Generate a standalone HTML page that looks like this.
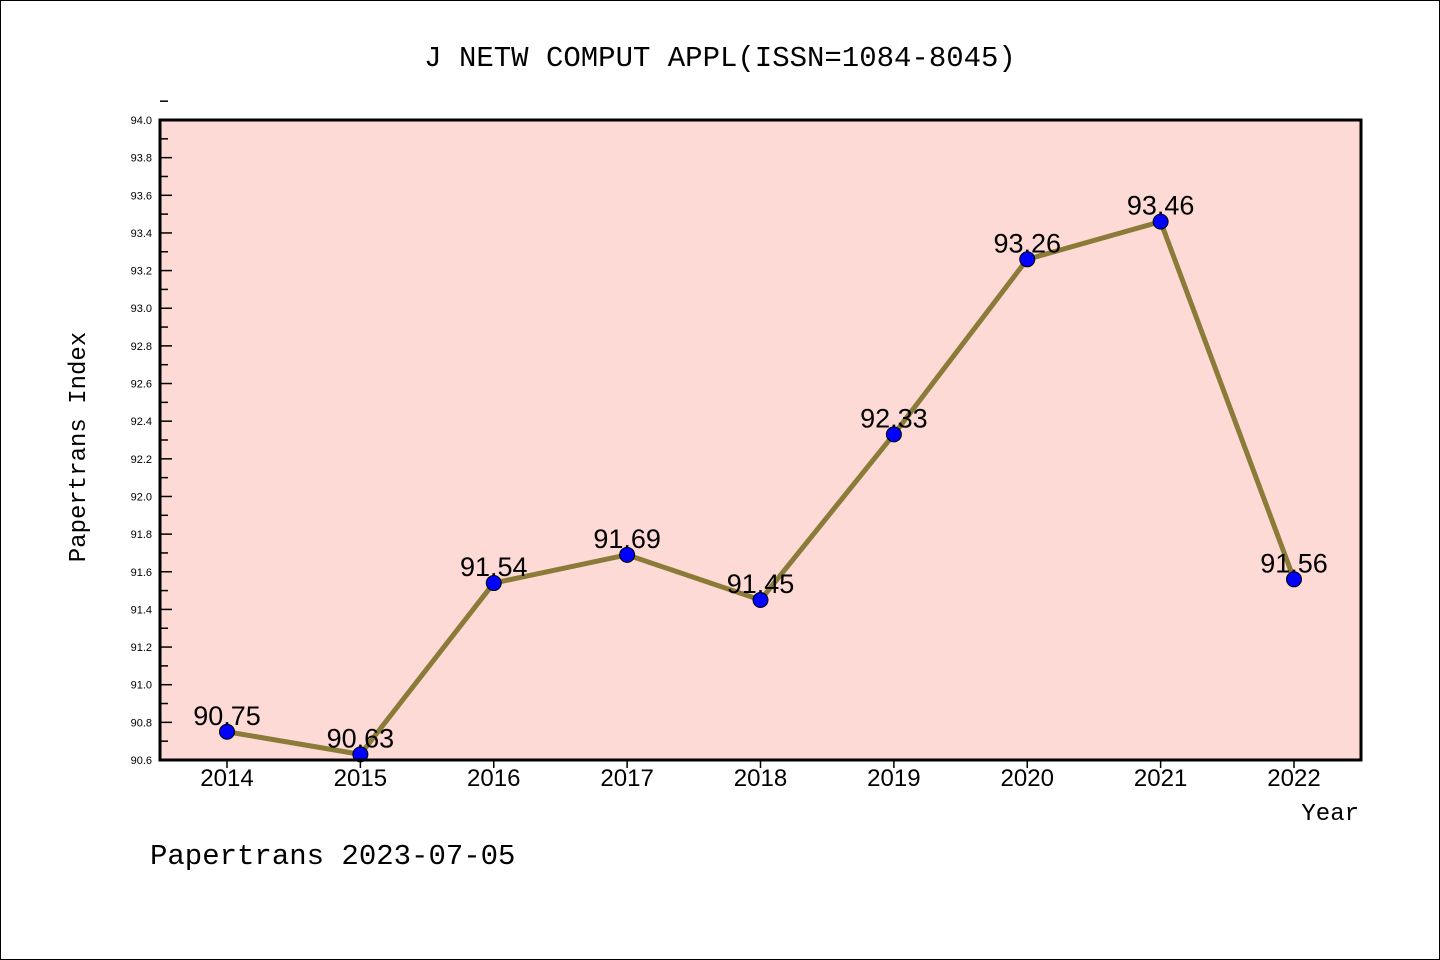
<!DOCTYPE html>
<html><head><meta charset="utf-8"><style>
body{margin:0;background:#fff}
svg{display:block;font-family:"Liberation Mono","DejaVu Sans Mono",monospace}
</style></head><body>
<svg id="chart" width="1440" height="960" xmlns="http://www.w3.org/2000/svg">
<rect x="0.5" y="0.5" width="1439" height="959" fill="#fff" stroke="#000"/>
<text x="720" y="66" text-anchor="middle" font-size="29">J NETW COMPUT APPL(ISSN=1084-8045)</text>
<rect x="160" y="120" width="1201" height="640" fill="#fddad6"/>
<g id="yaxis"></g>
<g id="xaxis"></g>
<g id="series"></g>
<rect x="160" y="120" width="1201" height="640" fill="none" stroke="#000" stroke-width="3"/>
<text transform="translate(85,447) rotate(-90)" text-anchor="middle" font-size="24">Papertrans Index</text>
<text x="1359" y="820" text-anchor="end" font-size="24">Year</text>
<text x="150" y="864" font-size="29">Papertrans 2023-07-05</text>
</svg>
<script>
const years=["2014","2015","2016","2017","2018","2019","2020","2021","2022"];
const values=[90.75,90.63,91.54,91.69,91.45,92.33,93.26,93.46,91.56];
const yTicks=["90.6","90.8","91.0","91.2","91.4","91.6","91.8","92.0","92.2","92.4","92.6","92.8","93.0","93.2","93.4","93.6","93.8","94.0"];
const yMin=90.6,yMax=94.0;
const NS="http://www.w3.org/2000/svg";
function X(i){return 227+i*(1294-227)/(years.length-1);}
function Y(v){return 760-(v-yMin)/(yMax-yMin)*640;}
function mk(t,a,p){const e=document.createElementNS(NS,t);for(const k in a)e.setAttribute(k,a[k]);p.appendChild(e);return e;}
const ya=document.getElementById('yaxis'),xa=document.getElementById('xaxis'),se=document.getElementById('series');
yTicks.forEach(t=>{const v=parseFloat(t),y=Y(v);
 const l=mk('line',{x1:160,x2:172,y1:y,y2:y,stroke:'#000','stroke-width':1.5},ya);
 
 
 const m=mk('line',{x1:160,x2:168,y1:Y(v+0.1),y2:Y(v+0.1),stroke:'#000','stroke-width':1.5},ya);
 
 
 const tx=mk('text',{x:152,y:y+4,'text-anchor':'end','font-size':11,'font-family':'Liberation Sans,sans-serif'},ya);tx.textContent=t;
 
 
});
years.forEach((yr,i)=>{const x=X(i);
 const l=mk('line',{x1:x,x2:x,y1:760,y2:768,stroke:'#000','stroke-width':1.5},xa);
 
 
 const t=mk('text',{x:x,y:786,'text-anchor':'middle','font-size':24,'font-family':'Liberation Sans,sans-serif'},xa);t.textContent=yr;
 
 
});
const pl=mk('polyline',{points:values.map((v,i)=>X(i)+','+Y(v)).join(' '),fill:'none',stroke:'#8b7b38','stroke-width':5},se);


values.forEach((v,i)=>{
 const c=mk('circle',{cx:X(i),cy:Y(v),r:7.5,fill:'#0000ff',stroke:'#000','stroke-width':1},se);
 
 
 const t=mk('text',{x:X(i),y:Y(v)-7,'text-anchor':'middle','font-size':27,'font-family':'Liberation Sans,sans-serif'},se);t.textContent=v.toFixed(2);
 
 
});
</script>
</body></html>
